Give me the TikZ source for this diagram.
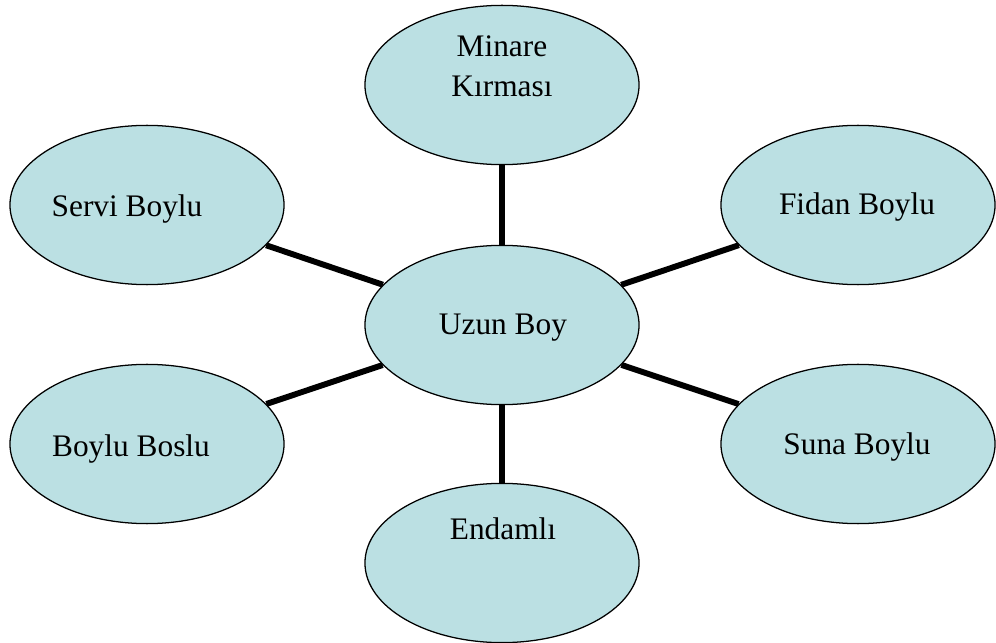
\documentclass[tikz,border=0pt]{standalone}
\usepackage{fontspec}
\setmainfont{Liberation Serif}
\usepackage{tikz}
\usetikzlibrary{shapes.geometric,positioning}
\definecolor{bubblefill}{RGB}{187,224,227}

\begin{document}
\begin{tikzpicture}[x=0.025cm, y=-0.025cm,
    bubble/.style={draw, ellipse, fill=bubblefill, line width=0.9pt, inner sep=0pt, minimum width=6.85cm, minimum height=3.98cm},
    word/.style={font=\fontsize{22.3}{28.5}\selectfont, inner sep=0pt, anchor=base, align=center},
    spoke/.style={line width=4.2pt}]
			\useasboundingbox (0,0) rectangle (996,643);
			% ellipses
			\node[bubble] (uzun) at (502,325) {};
			\node[bubble] (minare) at (502,85) {};
			\node[bubble] (endamli) at (502,563) {};
			\node[bubble] (servi) at (147,205) {};
			\node[bubble] (fidan) at (858,205) {};
			\node[bubble] (boslu) at (147,444) {};
			\node[bubble] (suna) at (858,444) {};
			
			% spokes
			\draw[spoke] (uzun) -- (minare);
			\draw[spoke] (uzun) -- (endamli);
			\draw[spoke] (uzun) -- (servi);
			\draw[spoke] (uzun) -- (fidan);
			\draw[spoke] (uzun) -- (boslu);
			\draw[spoke] (uzun) -- (suna);
			
			% labels
			\node[word] (uzun-t) at (503,335) {Uzun Boy};
			\node[word, anchor=center] (minare-t) at (502,66) {Minare\\Kırması};
			\node[word] (endamli-t) at (503,539) {Endamlı};
			\node[word] (servi-t) at (127,217) {Servi Boylu};
			\node[word] (fidan-t) at (857,215) {Fidan Boylu};
			\node[word] (boslu-t) at (131,456) {Boylu Boslu};
			\node[word] (suna-t) at (857,454) {Suna Boylu};
		\end{tikzpicture}
\end{document}
